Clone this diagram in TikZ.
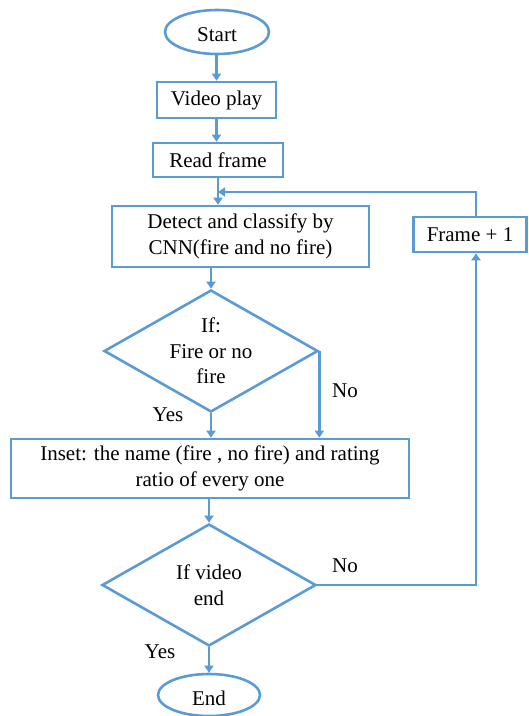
\documentclass[tikz,border=0pt]{standalone}
\usepackage{fontspec}
\setmainfont{Liberation Serif}
\usetikzlibrary{shapes.geometric,arrows.meta}
\definecolor{fcblue}{RGB}{91,155,213}
\tikzset{
  every node/.style={font=\fontsize{21}{25.5}\selectfont},
  lineblue/.style={draw=fcblue,line width=2.6pt},
  boxnode/.style={lineblue,rectangle,inner sep=0pt,align=center},
  ovalnode/.style={lineblue,ellipse,inner sep=0pt},
  decnode/.style={lineblue,diamond,inner sep=0pt,minimum width=214pt,minimum height=122pt,aspect=1.75},
  flow/.style={draw=fcblue,line width=2.6pt,-{Triangle[width=9pt,length=7pt]}},
  lbl/.style={inner sep=0pt}
}
\begin{document}
\begin{tikzpicture}[x=1pt,y=-1pt]
\useasboundingbox (0,0) rectangle (529,716);
\node[ovalnode,minimum width=104pt,minimum height=44pt,label={[lbl,yshift=-3pt]center:Start}] (start) at (217,32) {};
\node[boxnode,minimum width=119pt,minimum height=36pt] (video) at (216.5,100) {Video play};
\node[boxnode,minimum width=130pt,minimum height=34pt] (read) at (218,160) {Read frame};
\node[boxnode,minimum width=257pt,minimum height=61pt] (detect) at (240.5,236.5) {Detect and classify by\\CNN(fire and no fire)};
\node[boxnode,minimum width=113pt,minimum height=35pt] (frame) at (470,234.5) {Frame + 1};
\node[decnode,label={[align=center,lbl]center:If:\\Fire or no\\fire}] (d1) at (211,351) {};
\node[boxnode,minimum width=398pt,minimum height=59pt] (inset) at (210,468.5) {Inset: the name (fire , no fire) and rating\\ratio of every one};
\node[decnode,label={[align=center,lbl]center:If video\\end}] (d2) at (209,585) {};
\node[ovalnode,minimum width=102pt,minimum height=42pt,label={[lbl,yshift=-3pt]center:End}] (end) at (209,695) {};
\node[lbl] (yes1) at (168,415) {Yes};
\node[lbl] (no1) at (345,391) {No};
\node[lbl] (no2) at (345,566) {No};
\node[lbl] (yes2) at (160,652) {Yes};
\coordinate (join) at (218,192);
\coordinate (rx) at (476,0);
\draw[flow] (start.south -| video.north) -- (video.north);
\draw[flow] (video.south) -- (video.south |- read.north);
\draw[flow] (read.south) -- (read.south |- detect.north);
\draw[flow] (frame.north -| rx) |- (join);
\draw[flow] (d1.north |- detect.south) -- (d1.north);
\draw[flow] (d1.south) -- (d1.south |- inset.north);
\draw[flow] (d1.east) -- (d1.east |- inset.north);
\draw[flow] (d2.north |- inset.south) -- (d2.north);
\draw[flow] (d2.east) -| (frame.south -| rx);
\draw[flow] (d2.south) -- (end.north);
\end{tikzpicture}
\end{document}
